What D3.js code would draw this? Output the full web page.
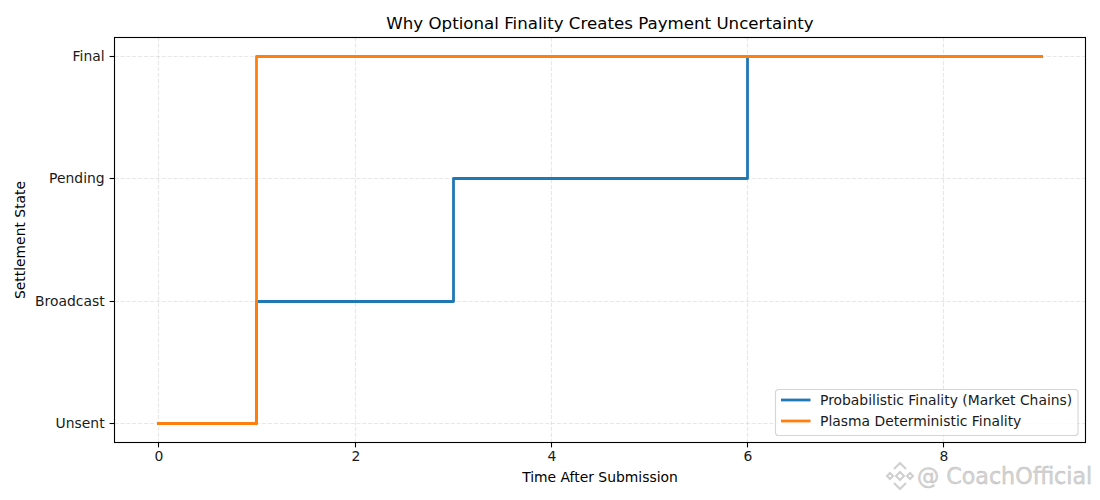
<!DOCTYPE html>
<html>
<head>
<meta charset="utf-8">
<script src="https://cdn.jsdelivr.net/npm/d3@7"></script>
<style>
  html, body { margin: 0; background: #fff; }
  svg { display: block; }
  text { font-family: "DejaVu Sans", sans-serif; fill: #000; }
  .tick text { font-size: 13.9px; fill: #1a1a1a; }
  .axis-label { font-size: 13.9px; }
  .legend-label { font-size: 13.9px; fill: #1a1a1a; }
  .chart-title { font-size: 16.67px; }
  .watermark { font-size: 22.2px; fill: #d4d4d4; stroke: #bdbdbd; stroke-width: 0.4px; }
</style>
</head>
<body>
<div id="viz"></div>
<script>
const times = [0, 1, 2, 3, 4, 5, 6, 7, 8, 9];
const stateLabels = ["Unsent", "Broadcast", "Pending", "Final"];
const probabilistic = [0, 1, 1, 2, 2, 2, 3, 3, 3, 3];
const deterministic = [0, 3, 3, 3, 3, 3, 3, 3, 3, 3];
const xTicks = [0, 2, 4, 6, 8];
const seriesNames = ["Probabilistic Finality (Market Chains)", "Plasma Deterministic Finality"];
const seriesColors = ["#1f77b4", "#ff7f0e"];

var width = 1100;
var height = 500;
var frame = {left: 114.5, right: 1085.5, top: 37.5, bottom: 442.5};

var svg = d3.select("#viz")
  .append("svg")
  .attr("width", width)
  .attr("height", height);

const xScale = d3.scaleLinear()
  .domain([-0.45, 9.45])
  .range([114.7, 1085.8]);
const yScale = d3.scaleLinear()
  .domain([-0.15, 3.15])
  .range([441.95, 38.35]);

// matplotlib snaps lines to pixel centres
const snap = v => Math.floor(v) + 0.5;
const sx = d => snap(xScale(d));
const sy = d => snap(yScale(d));

// grid
svg.append("g")
  .selectAll("line")
  .data(xTicks)
  .join("line")
  .attr("x1", sx)
  .attr("x2", sx)
  .attr("y1", frame.top)
  .attr("y2", frame.bottom)
  .attr("stroke", "#b0b0b0")
  .attr("stroke-opacity", 0.3)
  .attr("stroke-width", 1.1)
  .attr("stroke-dasharray", "4.1,1.8");
svg.append("g")
  .selectAll("line")
  .data(stateLabels.map((d, i) => i))
  .join("line")
  .attr("x1", frame.left)
  .attr("x2", frame.right)
  .attr("y1", sy)
  .attr("y2", sy)
  .attr("stroke", "#b0b0b0")
  .attr("stroke-opacity", 0.3)
  .attr("stroke-width", 1.1)
  .attr("stroke-dasharray", "4.1,1.8");

// step lines
var line = d3.line()
  .x(d => sx(d[0]))
  .y(d => sy(d[1]))
  .curve(d3.curveStepAfter);

[probabilistic, deterministic].forEach(function(values, i) {
  svg.append("path")
    .attr("d", line(times.map((t, j) => [t, values[j]])))
    .attr("fill", "none")
    .attr("stroke", seriesColors[i])
    .attr("stroke-width", 2.78)
    .attr("stroke-linejoin", "round")
    .attr("stroke-linecap", "square");
});

// axes
var xAxis = svg.append("g")
  .attr("transform", `translate(0,${frame.bottom})`)
  .call(d3.axisBottom(xScale).offset(0).tickValues(xTicks).tickSize(4.9).tickPadding(4).tickFormat(d3.format("d")));
xAxis.selectAll(".tick").attr("transform", d => `translate(${sx(d)},0)`);
xAxis.selectAll(".tick text").attr("dx", 0.5);
var yAxis = svg.append("g")
  .attr("transform", `translate(${frame.left},0)`)
  .call(d3.axisLeft(yScale).offset(0).tickValues([0, 1, 2, 3]).tickSize(4.9).tickPadding(5).tickFormat(d => stateLabels[d]));
yAxis.selectAll(".tick").attr("transform", d => `translate(0,${sy(d)})`);
[xAxis, yAxis].forEach(function(a) {
  a.select(".domain").remove();
  a.selectAll(".tick line").attr("stroke", "#000").attr("stroke-width", 1.1);
});

svg.append("rect")
  .attr("x", frame.left)
  .attr("y", frame.top)
  .attr("width", frame.right - frame.left)
  .attr("height", frame.bottom - frame.top)
  .attr("fill", "none")
  .attr("stroke", "#000")
  .attr("stroke-width", 1.1);

// titles
svg.append("text")
  .attr("class", "chart-title")
  .attr("x", (frame.left + frame.right) / 2)
  .attr("y", 29)
  .attr("text-anchor", "middle")
  .text("Why Optional Finality Creates Payment Uncertainty");
svg.append("text")
  .attr("class", "axis-label")
  .attr("x", (frame.left + frame.right) / 2)
  .attr("y", 482)
  .attr("text-anchor", "middle")
  .text("Time After Submission");
svg.append("text")
  .attr("class", "axis-label")
  .attr("transform", `translate(25,${(frame.top + frame.bottom) / 2}) rotate(-90)`)
  .attr("text-anchor", "middle")
  .text("Settlement State");

// legend
var legend = svg.append("g").attr("transform", "translate(775.5,389.5)");
legend.append("rect")
  .attr("width", 302.5)
  .attr("height", 46)
  .attr("rx", 3)
  .attr("fill", "#fff")
  .attr("fill-opacity", 0.8)
  .attr("stroke", "#d5d5d5")
  .attr("stroke-width", 1.1);
seriesNames.forEach(function(name, i) {
  var row = legend.append("g").attr("transform", `translate(0,${10.5 + i * 21})`);
  row.append("line")
    .attr("x1", 5.5)
    .attr("x2", 35)
    .attr("stroke", seriesColors[i])
    .attr("stroke-width", 2.78);
  row.append("text")
    .attr("class", "legend-label")
    .attr("x", 44.5)
    .attr("y", 4.8)
    .text(name);
});

// watermark
var mark = svg.append("g").attr("transform", "translate(900,476)")
  .attr("fill", "none")
  .attr("stroke", "#cfcfcf")
  .attr("stroke-width", 2);
mark.append("path").attr("d", "M-6,-7L0,-13L6,-7M-6,7L0,13L6,7M-13,0L-10,-3L-7,0L-10,3ZM7,0L10,-3L13,0L10,3ZM-4,0L0,-4L4,0L0,4Z");
svg.append("text")
  .attr("class", "watermark")
  .attr("x", 917)
  .attr("y", 484)
  .text("@ CoachOfficial");
</script>
</body>
</html>
